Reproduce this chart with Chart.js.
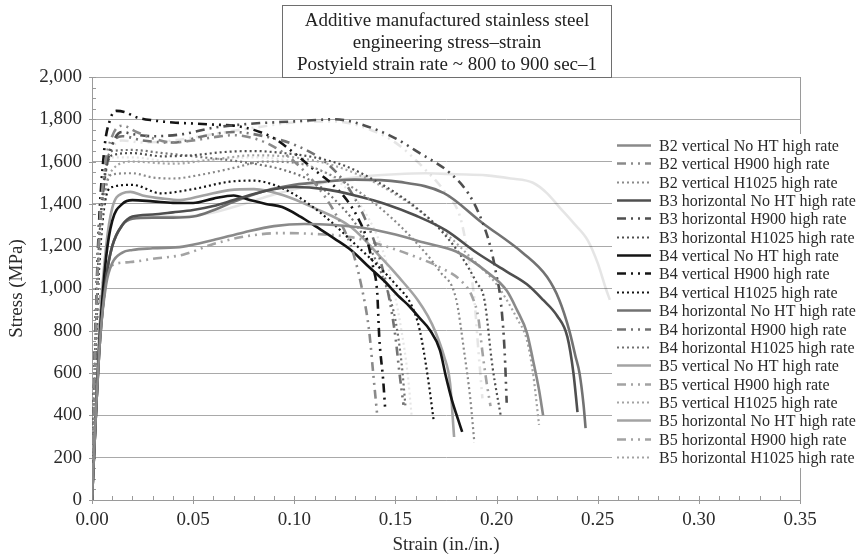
<!DOCTYPE html>
<html>
<head>
<meta charset="utf-8">
<title>Stress-strain</title>
<script src="https://cdn.jsdelivr.net/npm/chart.js@4.4.0/dist/chart.umd.min.js"></script>
<style>
  html, body { margin: 0; padding: 0; background: #fff; }
  #wrap { width: 857px; height: 558px; }
</style>
</head>
<body>
<div id="wrap"><canvas id="chart" width="857" height="558"></canvas></div>
<script>
// 軸の目盛
const strainTicks = [0, 0.05, 0.10, 0.15, 0.20, 0.25, 0.30, 0.35];
const stressTicks = [0, 200, 400, 600, 800, 1000, 1200, 1400, 1600, 1800, 2000];

const titleLines = [
  'Additive manufactured stainless steel',
  'engineering stress\u2013strain',
  'Postyield strain rate ~ 800 to 900 sec\u20131'
];

// 凡例の順番
const seriesLabels = [
  'B2 vertical No HT high rate', 'B2 vertical H900 high rate', 'B2 vertical H1025 high rate',
  'B3 horizontal No HT high rate', 'B3 horizontal H900 high rate', 'B3 horizontal H1025 high rate',
  'B4 vertical No HT high rate', 'B4 vertical H900 high rate', 'B4 vertical H1025 high rate',
  'B4 horizontal No HT high rate', 'B4 horizontal H900 high rate', 'B4 horizontal H1025 high rate',
  'B5 vertical No HT high rate', 'B5 vertical H900 high rate', 'B5 vertical H1025 high rate',
  'B5 horizontal No HT high rate', 'B5 horizontal H900 high rate', 'B5 horizontal H1025 high rate'
];

// B2 vertical
const b2vNoHT_strain = [0, 0.002, 0.004, 0.007, 0.01, 0.015, 0.02, 0.03, 0.045, 0.06, 0.075, 0.09, 0.105, 0.12, 0.135, 0.15, 0.165, 0.18, 0.195, 0.205, 0.21, 0.215, 0.218, 0.221, 0.223];
const b2vNoHT_stress = [0, 420, 760, 1020, 1120, 1170, 1182, 1190, 1198, 1229, 1265, 1295, 1305, 1300, 1285, 1255, 1215, 1175, 1080, 990, 900, 790, 662, 520, 400];
const b2vH900_strain = [0, 0.001, 0.003, 0.006, 0.01, 0.015, 0.022, 0.03, 0.04, 0.05, 0.06, 0.07, 0.08, 0.09, 0.1, 0.11, 0.12, 0.128, 0.133, 0.137, 0.139, 0.141];
const b2vH900_stress = [0, 500, 1150, 1550, 1720, 1770, 1740, 1710, 1690, 1700, 1715, 1725, 1710, 1670, 1600, 1500, 1360, 1200, 1020, 800, 600, 400];
const b2vH1025_strain = [0, 0.001, 0.003, 0.006, 0.01, 0.02, 0.03, 0.04, 0.055, 0.07, 0.085, 0.1, 0.115, 0.13, 0.145, 0.16, 0.172, 0.18, 0.184, 0.187, 0.189];
const b2vH1025_stress = [0, 450, 1050, 1420, 1540, 1545, 1525, 1520, 1540, 1570, 1600, 1595, 1550, 1470, 1360, 1220, 1080, 950, 700, 480, 274];

// B3 horizontal
const b3hNoHT_strain = [0, 0.002, 0.004, 0.007, 0.01, 0.015, 0.02, 0.03, 0.04, 0.05, 0.06, 0.07, 0.085, 0.1, 0.115, 0.13, 0.145, 0.16, 0.175, 0.19, 0.205, 0.215, 0.223, 0.23, 0.235, 0.238, 0.24];
const b3hNoHT_stress = [0, 420, 760, 1050, 1200, 1300, 1340, 1350, 1360, 1371, 1390, 1418, 1460, 1480, 1470, 1440, 1400, 1345, 1275, 1170, 1080, 1020, 946, 870, 771, 600, 416];
const b3hH900_strain = [0, 0.001, 0.003, 0.006, 0.01, 0.015, 0.02, 0.03, 0.045, 0.06, 0.08, 0.1, 0.12, 0.135, 0.15, 0.162, 0.177, 0.186, 0.192, 0.197, 0.2, 0.202, 0.204, 0.205];
const b3hH900_stress = [0, 500, 1150, 1500, 1680, 1740, 1730, 1720, 1730, 1760, 1780, 1790, 1800, 1770, 1710, 1640, 1546, 1450, 1338, 1196, 1060, 946, 700, 460];
const b3hH1025_strain = [0, 0.001, 0.003, 0.006, 0.01, 0.02, 0.035, 0.05, 0.065, 0.08, 0.095, 0.11, 0.125, 0.14, 0.155, 0.17, 0.182, 0.19, 0.194, 0.198, 0.202];
const b3hH1025_stress = [0, 450, 1100, 1500, 1630, 1640, 1625, 1630, 1645, 1650, 1640, 1620, 1580, 1510, 1420, 1300, 1160, 1030, 946, 629, 402];

// B4 vertical
const b4vNoHT_strain = [0, 0.002, 0.004, 0.007, 0.01, 0.015, 0.02, 0.03, 0.04, 0.05, 0.06, 0.07, 0.078, 0.086, 0.094, 0.103, 0.111, 0.12, 0.128, 0.136, 0.144, 0.152, 0.157, 0.162, 0.167, 0.172, 0.175, 0.178, 0.181, 0.183];
const b4vNoHT_stress = [0, 420, 800, 1150, 1320, 1400, 1418, 1412, 1405, 1404, 1425, 1440, 1418, 1400, 1385, 1340, 1291, 1235, 1182, 1110, 1040, 960, 915, 860, 804, 709, 582, 470, 380, 322];
const b4vH900_strain = [0, 0.001, 0.003, 0.006, 0.009, 0.012, 0.016, 0.022, 0.03, 0.04, 0.05, 0.06, 0.07, 0.08, 0.09, 0.1, 0.11, 0.118, 0.126, 0.132, 0.136, 0.139, 0.141, 0.142, 0.144, 0.145];
const b4vH900_stress = [0, 500, 1200, 1650, 1800, 1840, 1835, 1810, 1795, 1785, 1780, 1775, 1770, 1750, 1710, 1640, 1560, 1500, 1418, 1324, 1229, 1100, 979, 771, 560, 420];
const b4vH1025_strain = [0, 0.001, 0.003, 0.006, 0.01, 0.02, 0.034, 0.05, 0.068, 0.08, 0.09, 0.1, 0.11, 0.12, 0.13, 0.14, 0.15, 0.158, 0.162, 0.166, 0.169];
const b4vH1025_stress = [0, 450, 1000, 1380, 1480, 1490, 1450, 1470, 1505, 1510, 1490, 1445, 1380, 1300, 1210, 1120, 1020, 920, 804, 582, 369];

// B4 horizontal
const b4hNoHT_strain = [0, 0.002, 0.004, 0.007, 0.01, 0.015, 0.02, 0.03, 0.04, 0.05, 0.06, 0.07, 0.085, 0.1, 0.115, 0.13, 0.152, 0.174, 0.193, 0.213, 0.225, 0.231, 0.236, 0.239, 0.241, 0.243, 0.244];
const b4hNoHT_stress = [0, 420, 760, 1050, 1200, 1300, 1330, 1335, 1335, 1340, 1370, 1410, 1460, 1490, 1505, 1515, 1504, 1451, 1310, 1168, 1054, 946, 800, 680, 600, 450, 340];
const b4hH900_strain = [0, 0.001, 0.003, 0.006, 0.01, 0.015, 0.025, 0.04, 0.055, 0.07, 0.085, 0.1, 0.115, 0.125, 0.135, 0.142, 0.147, 0.15, 0.152, 0.154];
const b4hH900_stress = [0, 500, 1150, 1520, 1680, 1720, 1700, 1690, 1720, 1740, 1720, 1680, 1600, 1500, 1330, 1150, 950, 771, 600, 450];
const b4hH1025_strain = [0, 0.001, 0.003, 0.006, 0.01, 0.02, 0.035, 0.05, 0.065, 0.08, 0.095, 0.11, 0.12, 0.13, 0.138, 0.145, 0.15, 0.153, 0.155];
const b4hH1025_stress = [0, 450, 1100, 1520, 1650, 1655, 1640, 1625, 1610, 1590, 1560, 1500, 1420, 1310, 1180, 1020, 850, 650, 440];

// B5 vertical
const b5vNoHT_strain = [0, 0.002, 0.004, 0.007, 0.01, 0.015, 0.019, 0.025, 0.035, 0.0435, 0.055, 0.068, 0.08, 0.095, 0.11, 0.128, 0.144, 0.152, 0.161, 0.166, 0.17, 0.174, 0.177, 0.179];
const b5vNoHT_stress = [0, 450, 850, 1200, 1380, 1450, 1457, 1440, 1425, 1418, 1440, 1465, 1470, 1440, 1380, 1291, 1135, 1050, 946, 870, 790, 680, 553, 298];
const b5vH900_strain = [0, 0.001, 0.003, 0.006, 0.01, 0.019, 0.03, 0.045, 0.06, 0.075, 0.093, 0.11, 0.128, 0.145, 0.16, 0.172, 0.182, 0.188, 0.191, 0.193, 0.195, 0.197];
const b5vH900_stress = [0, 400, 850, 1050, 1110, 1125, 1140, 1160, 1210, 1245, 1262, 1258, 1243, 1200, 1150, 1100, 1040, 960, 860, 700, 560, 444];
const b5vH1025_strain = [0, 0.001, 0.003, 0.006, 0.01, 0.02, 0.04, 0.06, 0.08, 0.1, 0.12, 0.14, 0.16, 0.175, 0.19, 0.2, 0.205, 0.21, 0.215, 0.218, 0.221];
const b5vH1025_stress = [0, 450, 1000, 1420, 1560, 1600, 1590, 1610, 1630, 1620, 1580, 1500, 1380, 1260, 1120, 1020, 946, 860, 756, 600, 355];

// B5 horizontal
const b5hNoHT_strain = [0, 0.002, 0.004, 0.007, 0.01, 0.015, 0.02, 0.03, 0.045, 0.06, 0.075, 0.09, 0.105, 0.12, 0.135, 0.15, 0.165, 0.18, 0.195, 0.207, 0.218, 0.225, 0.231, 0.238, 0.245, 0.25, 0.254, 0.256];
const b5hNoHT_stress = [0, 420, 760, 1050, 1200, 1300, 1340, 1345, 1340, 1360, 1400, 1445, 1480, 1510, 1530, 1540, 1545, 1540, 1535, 1520, 1500, 1450, 1385, 1310, 1229, 1120, 1000, 946];
const b5hH900_strain = [0, 0.001, 0.003, 0.006, 0.01, 0.015, 0.025, 0.04, 0.06, 0.08, 0.1, 0.12, 0.135, 0.15, 0.165, 0.175, 0.182, 0.186, 0.189, 0.191, 0.193];
const b5hH900_stress = [0, 500, 1100, 1480, 1660, 1700, 1690, 1700, 1730, 1760, 1785, 1790, 1760, 1690, 1560, 1450, 1338, 1150, 950, 709, 480];
const b5hH1025_strain = [0, 0.001, 0.003, 0.006, 0.01, 0.02, 0.04, 0.06, 0.08, 0.1, 0.115, 0.125, 0.135, 0.143, 0.149, 0.153, 0.156, 0.158];
const b5hH1025_stress = [0, 450, 1100, 1500, 1620, 1620, 1600, 1610, 1620, 1600, 1550, 1480, 1360, 1200, 1000, 800, 600, 400];

const allStrain = [b2vNoHT_strain, b2vH900_strain, b2vH1025_strain, b3hNoHT_strain, b3hH900_strain, b3hH1025_strain,
  b4vNoHT_strain, b4vH900_strain, b4vH1025_strain, b4hNoHT_strain, b4hH900_strain, b4hH1025_strain,
  b5vNoHT_strain, b5vH900_strain, b5vH1025_strain, b5hNoHT_strain, b5hH900_strain, b5hH1025_strain];
const allStress = [b2vNoHT_stress, b2vH900_stress, b2vH1025_stress, b3hNoHT_stress, b3hH900_stress, b3hH1025_stress,
  b4vNoHT_stress, b4vH900_stress, b4vH1025_stress, b4hNoHT_stress, b4hH900_stress, b4hH1025_stress,
  b5vNoHT_stress, b5vH900_stress, b5vH1025_stress, b5hNoHT_stress, b5hH900_stress, b5hH1025_stress];

// 試料ごとの色、熱処理ごとの線種
const groupColors = ['#8a8a8a', '#4f4f4f', '#141414', '#727272', '#a3a3a3'];
const lineKinds = ['solid', 'dashdot', 'dot'];

const FONT = "'Liberation Serif', 'DejaVu Serif', serif";
Chart.defaults.font.family = FONT;
Chart.defaults.font.size = 19;
Chart.defaults.color = '#2a2a2a';

function lineStyle(kind) {
  if (kind === 'dashdot') return { borderDash: [9, 5, 2, 5, 2, 5], borderWidth: 2.6 };
  if (kind === 'dot') return { borderDash: [2, 3], borderWidth: 2.2 };
  return { borderDash: [], borderWidth: 2.6 };
}

const datasets = seriesLabels.map((label, i) => {
  const st = lineStyle(lineKinds[i % 3]);
  return {
    label: label,
    data: allStrain[i].map((x, k) => ({ x: x, y: allStress[i][k] })),
    borderColor: groupColors[Math.floor(i / 3)],
    backgroundColor: groupColors[Math.floor(i / 3)],
    borderWidth: st.borderWidth,
    borderDash: st.borderDash,
    showLine: true,
    pointRadius: 0,
    cubicInterpolationMode: 'monotone',
    fill: false
  };
});

// 枠線と補助目盛
const framePlugin = {
  id: 'frame',
  beforeDatasetsDraw(chart) {
    const ctx = chart.ctx;
    const a = chart.chartArea;
    const xs = chart.scales.x, ys = chart.scales.y;
    ctx.save();
    ctx.strokeStyle = '#9a9a9a';
    ctx.lineWidth = 1;
    ctx.beginPath();
    ctx.moveTo(Math.round(a.right) + 0.5, a.top);
    ctx.lineTo(Math.round(a.right) + 0.5, a.bottom);
    ctx.stroke();
    ctx.beginPath();
    for (let k = 0; k <= 35; k++) {
      const px = Math.round(xs.getPixelForValue(k / 100)) + 0.5;
      ctx.moveTo(px, a.bottom + (k % 5 === 0 ? 4 : 0));
      ctx.lineTo(px, a.bottom - 4);
    }
    for (let v = 0; v <= 2000; v += 50) {
      const py = Math.round(ys.getPixelForValue(v)) + 0.5;
      ctx.moveTo(a.left - (v % 200 === 0 ? 3 : 0), py);
      ctx.lineTo(a.left + 4, py);
    }
    ctx.stroke();
    ctx.restore();
  }
};

// 凡例とタイトルの箱
const boxPlugin = {
  id: 'boxes',
  afterDraw(chart) {
    const ctx = chart.ctx;
    ctx.save();
    ctx.fillStyle = '#fff';
    ctx.fillRect(612, 134, 245, 334);
    chart.data.datasets.forEach((ds, i) => {
      const y = Math.round(145 + i * 18.35) + 0.5;
      ctx.strokeStyle = ds.borderColor;
      ctx.lineWidth = ds.borderWidth;
      ctx.setLineDash(ds.borderDash);
      ctx.beginPath();
      ctx.moveTo(617, y);
      ctx.lineTo(651, y);
      ctx.stroke();
      ctx.setLineDash([]);
      ctx.fillStyle = '#2a2a2a';
      ctx.font = '16px ' + FONT;
      ctx.textBaseline = 'middle';
      ctx.textAlign = 'left';
      ctx.fillText(ds.label, 659, y + 1);
    });

    ctx.fillStyle = '#fff';
    ctx.fillRect(282, 5, 329, 72);
    ctx.strokeStyle = '#6e6e6e';
    ctx.lineWidth = 1;
    ctx.strokeRect(282.5, 5.5, 329, 72);
    ctx.fillStyle = '#222';
    ctx.font = '19px ' + FONT;
    ctx.textAlign = 'center';
    ctx.textBaseline = 'middle';
    titleLines.forEach((t, i) => ctx.fillText(t, 447, 21 + i * 22));
    ctx.restore();
  }
};

new Chart(document.getElementById('chart'), {
  type: 'scatter',
  data: { datasets: datasets },
  options: {
    responsive: false,
    animation: false,
    devicePixelRatio: 1,
    layout: { padding: { top: 77, right: 57, left: 0, bottom: 0 } },
    plugins: { legend: { display: false }, tooltip: { enabled: false } },
    scales: {
      x: {
        type: 'linear',
        min: strainTicks[0],
        max: strainTicks[strainTicks.length - 1],
        afterBuildTicks: s => { s.ticks = strainTicks.map(v => ({ value: v })); },
        ticks: { callback: v => Number(v).toFixed(2), padding: 9, maxRotation: 0, autoSkip: false },
        grid: { display: false, drawTicks: false },
        border: { color: '#9a9a9a' },
        title: { display: true, text: 'Strain (in./in.)', padding: { top: 2, bottom: 2 } },
        afterFit: s => { s.height = 58; }
      },
      y: {
        min: stressTicks[0],
        max: stressTicks[stressTicks.length - 1],
        afterBuildTicks: s => { s.ticks = stressTicks.map(v => ({ value: v })); },
        ticks: { callback: v => Number(v).toLocaleString('en-US'), padding: 10 },
        grid: { color: '#a9a9a9', drawTicks: false },
        border: { color: '#9a9a9a' },
        title: { display: true, text: 'Stress (MPa)', padding: { top: 6, bottom: 4 } },
        afterFit: s => { s.width = 92; }
      }
    }
  },
  plugins: [framePlugin, boxPlugin]
});
</script>
</body>
</html>
